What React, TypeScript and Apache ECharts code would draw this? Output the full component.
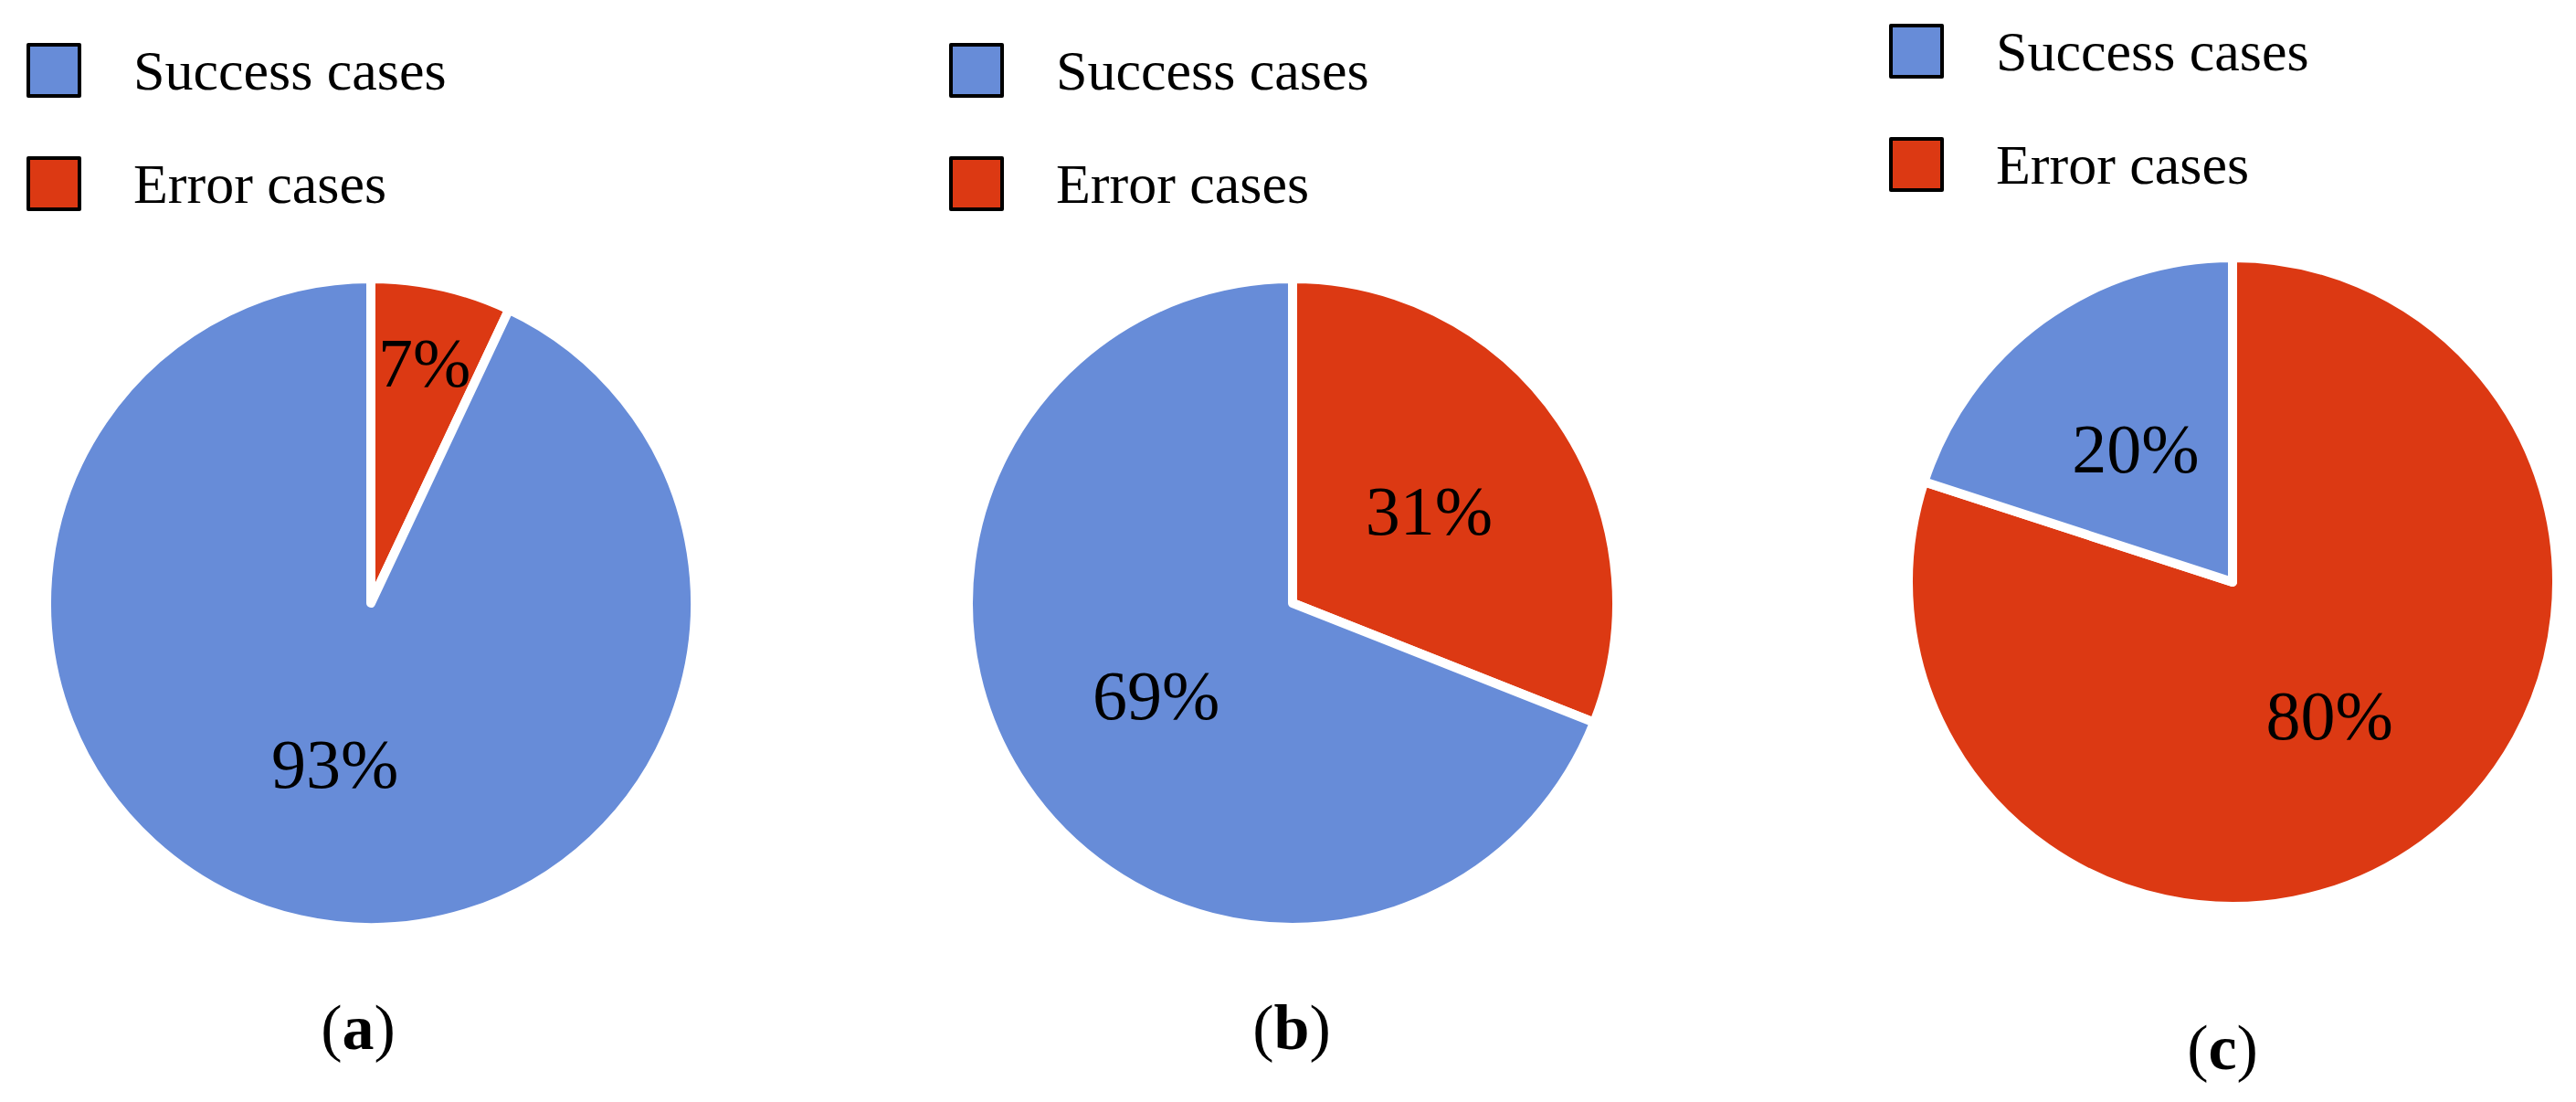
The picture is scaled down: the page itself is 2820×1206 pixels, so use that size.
import React, { useEffect, useRef } from "react";
import * as echarts from "echarts";

const categories = ["Success cases", "Error cases"];
const panelLetters = ["a", "b", "c"];
const successValues = [93, 69, 20];
const errorValues = [7, 31, 80];

const BLUE = "#678CD8";
const RED = "#DC3913";
const FONT = "'Liberation Serif', 'Times New Roman', serif";

const pieCenters: [number, number][] = [
  [406, 660],
  [1415, 660],
  [2444, 637],
];
const legendLefts = [24, 1034, 2063];
const legendTops = [41, 41, 20];
const letterPos: [number, number][] = [
  [392, 1124],
  [1414, 1124],
  [2433, 1146],
];
const RADIUS = 355;

export default function App() {
  const ref = useRef<HTMLDivElement>(null);
  useEffect(() => {
    if (!ref.current) return;
    const chart = echarts.init(ref.current, null, { renderer: "svg" });

    const series = panelLetters.map((_, i) => ({
      type: "pie",
      name: "panel-" + panelLetters[i],
      center: pieCenters[i],
      radius: RADIUS,
      startAngle: 90,
      clockwise: true,
      silent: true,
      itemStyle: { borderColor: "#ffffff", borderWidth: 10, borderJoin: "round" },
      label: {
        show: true,
        position: "inside",
        formatter: "{c}%",
        color: "#000",
        fontFamily: FONT,
        fontSize: 76,
      },
      labelLine: { show: false },
      labelLayout: (params: any) => {
        // small slice: Excel "best fit" pushes the label further out
        if (params.dataIndex === 0 && errorValues[i] < 10) {
          const mid = ((errorValues[i] / 2) * 3.6 * Math.PI) / 180;
          const extra = RADIUS * 0.25;
          return { dx: Math.sin(mid) * extra, dy: -Math.cos(mid) * extra };
        }
        return {};
      },
      data: [
        { name: categories[1], value: errorValues[i], itemStyle: { color: RED } },
        { name: categories[0], value: successValues[i], itemStyle: { color: BLUE } },
      ],
    }));

    const legends = panelLetters.map((_, i) => ({
      data: categories,
      orient: "vertical",
      left: legendLefts[i],
      top: legendTops[i],
      icon: "rect",
      itemWidth: 56,
      itemHeight: 56,
      itemGap: 62,
      selectedMode: false,
      itemStyle: { borderColor: "#000", borderWidth: 4 },
      textStyle: {
        fontFamily: FONT,
        fontSize: 62,
        color: "#000",
        lineHeight: 56,
        padding: [0, 0, 0, 54],
      },
    }));

    const graphics = panelLetters.map((l, i) => ({
      type: "text",
      x: letterPos[i][0],
      y: letterPos[i][1],
      style: {
        text: "{n|(}{b|" + l + "}{n|)}",
        textAlign: "center",
        textVerticalAlign: "middle",
        rich: {
          n: { fontFamily: FONT, fontSize: 70, fill: "#000", fontWeight: "normal" },
          b: { fontFamily: FONT, fontSize: 70, fill: "#000", fontWeight: "bold" },
        },
      },
    }));

    chart.setOption({
      animation: false,
      backgroundColor: "#ffffff",
      legend: legends,
      series,
      graphic: graphics,
    });
    return () => chart.dispose();
  }, []);

  return (
    <div
      ref={ref}
      style={{ position: "fixed", left: 0, top: 0, width: 2820, height: 1206, background: "#fff" }}
    />
  );
}
